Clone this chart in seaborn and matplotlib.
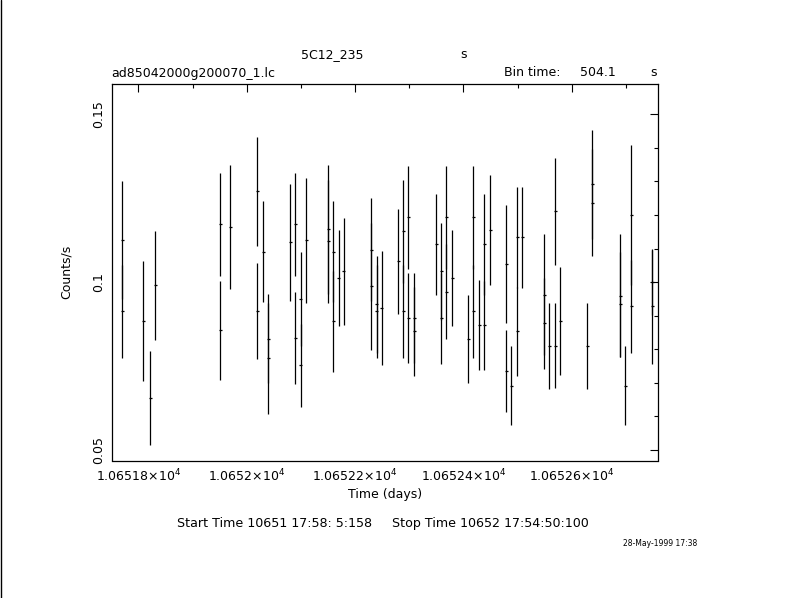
#%%
import pandas as pd
import seaborn as sns
import matplotlib.pyplot as plt
from matplotlib.lines import Line2D
from matplotlib.ticker import MultipleLocator, FuncFormatter

# %%
# light curve values (time in days, rate in counts/s)
time_days = [10651.7701, 10651.7701, 10651.8089, 10651.8218, 10651.8310,
             10651.9511, 10651.9511, 10651.9695, 10652.0194, 10652.0194,
             10652.0305, 10652.0397, 10652.0397, 10652.0803, 10652.0896,
             10652.0896, 10652.0995, 10652.0995, 10652.1099, 10652.1505,
             10652.1505, 10652.1597, 10652.1597, 10652.1697, 10652.1789,
             10652.2299, 10652.2299, 10652.2399, 10652.2399, 10652.2491,
             10652.2798, 10652.2890, 10652.2890, 10652.2982, 10652.2982,
             10652.3093, 10652.3093, 10652.3500, 10652.3592, 10652.3592,
             10652.3684, 10652.3684, 10652.3795, 10652.4090, 10652.4183,
             10652.4183, 10652.4294, 10652.4386, 10652.4386, 10652.4497,
             10652.4792, 10652.4792, 10652.4885, 10652.4995, 10652.4995,
             10652.5088, 10652.5494, 10652.5494, 10652.5586, 10652.5697,
             10652.5697, 10652.5789, 10652.6288, 10652.6380, 10652.6380,
             10652.6897, 10652.6897, 10652.6990, 10652.7101, 10652.7101,
             10652.7488, 10652.7488]
rate = [0.1125, 0.0913, 0.0883, 0.0654, 0.0990,
        0.1172, 0.0856, 0.1163, 0.1270, 0.0913,
        0.1091, 0.0832, 0.0773, 0.1118, 0.1172,
        0.0835, 0.0951, 0.0752, 0.1124, 0.1157,
        0.1121, 0.1091, 0.0883, 0.1011, 0.1032,
        0.1097, 0.0987, 0.0934, 0.0913, 0.0922,
        0.1062, 0.1151, 0.0913, 0.1193, 0.0892,
        0.0892, 0.0853, 0.1112, 0.1032, 0.0892,
        0.1193, 0.0972, 0.1011, 0.0832, 0.1193,
        0.0913, 0.0871, 0.1112, 0.0871, 0.1154,
        0.1053, 0.0734, 0.0692, 0.1133, 0.0853,
        0.1133, 0.0963, 0.0877, 0.0811, 0.1211,
        0.0811, 0.0883, 0.0811, 0.1291, 0.1237,
        0.0960, 0.0934, 0.0692, 0.1199, 0.0928,
        0.0999, 0.0928]
rate_err = [0.0176, 0.0138, 0.0179, 0.0140, 0.0161,
            0.0154, 0.0148, 0.0185, 0.0162, 0.0143,
            0.0150, 0.0132, 0.0165, 0.0173, 0.0154,
            0.0137, 0.0140, 0.0123, 0.0185, 0.0191,
            0.0183, 0.0150, 0.0150, 0.0143, 0.0160,
            0.0153, 0.0189, 0.0144, 0.0138, 0.0170,
            0.0156, 0.0153, 0.0138, 0.0154, 0.0134,
            0.0134, 0.0132, 0.0150, 0.0144, 0.0135,
            0.0153, 0.0141, 0.0143, 0.0131, 0.0153,
            0.0138, 0.0134, 0.0150, 0.0132, 0.0164,
            0.0176, 0.0122, 0.0119, 0.0150, 0.0132,
            0.0151, 0.0180, 0.0135, 0.0128, 0.0159,
            0.0126, 0.0161, 0.0128, 0.0162, 0.0159,
            0.0183, 0.0156, 0.0119, 0.0209, 0.0138,
            0.0098, 0.0171]
bin_time_s = 504.1

lc = pd.DataFrame({'time': time_days, 'rate': rate, 'err': rate_err})

# %%
sns.set_theme(style='white')
plt.rcParams['font.family'] = ['DejaVu Sans']
plt.rcParams['mathtext.fontset'] = 'dejavusans'
plt.rcParams['text.color'] = 'black'
plt.rcParams['axes.labelcolor'] = 'black'

fig = plt.figure(figsize=(7.9, 5.98), dpi=100)
ax = fig.add_axes([112/790, 1 - 460.5/598, (658 - 112)/790, (460.5 - 84)/598])

ax.errorbar(lc.time, lc.rate, yerr=lc.err, xerr=bin_time_s / 2 / 86400,
            fmt='none', ecolor='black', elinewidth=0.9, capsize=0)

ax.set_xlim(10651.7511, 10652.7594)
ax.set_ylim(0.04687, 0.1590)

ax.xaxis.set_major_locator(MultipleLocator(0.2))
ax.xaxis.set_minor_locator(MultipleLocator(0.1))
ax.yaxis.set_major_locator(MultipleLocator(0.05))
ax.yaxis.set_minor_locator(MultipleLocator(0.01))
ax.xaxis.set_major_formatter(FuncFormatter(lambda v, p: f'{v/1e4:.6g}' + r'$\times$10$^{4}$'))
ax.yaxis.set_major_formatter(FuncFormatter(lambda v, p: f'{v:.2g}'))

ax.tick_params(which='both', direction='in', top=True, right=True, colors='black',
               labelsize=9, width=0.8)
ax.tick_params(which='major', length=5.5)
ax.tick_params(which='minor', length=3)
ax.tick_params(axis='x', pad=5)
ax.tick_params(axis='y', pad=5)
for lab in ax.get_yticklabels():
    lab.set_rotation(90)
    lab.set_va('center')

for sp in ax.spines.values():
    sp.set_color('black')
    sp.set_linewidth(0.9)

ax.set_xlabel('Time (days)', fontsize=9, labelpad=3)
ax.set_ylabel('Counts/s', fontsize=9, labelpad=14)

# header and footer texts
fig.text(332/790, 1 - 55/598, '5C12_235', ha='center', va='center', fontsize=9)
fig.text(464/790, 1 - 55/598, 's', ha='center', va='center', fontsize=9)
fig.text(111/790, 1 - 73/598, 'ad85042000g200070_1.lc', ha='left', va='center', fontsize=9)
fig.text(504/790, 1 - 73/598, 'Bin time:', ha='left', va='center', fontsize=9)
fig.text(598/790, 1 - 73/598, '504.1', ha='center', va='center', fontsize=9)
fig.text(654/790, 1 - 73/598, 's', ha='center', va='center', fontsize=9)
fig.text(177/790, 1 - 524/598, 'Start Time 10651 17:58: 5:158     Stop Time 10652 17:54:50:100',
         ha='left', va='center', fontsize=9.1)
fig.text(660/790, 1 - 544/598, '28-May-1999 17:38', ha='center', va='center', fontsize=5.5)

fig.add_artist(Line2D([0.0008, 0.0008], [0, 1], transform=fig.transFigure, color='black', lw=1))

fig.savefig('out.png', dpi=100, facecolor='white')
